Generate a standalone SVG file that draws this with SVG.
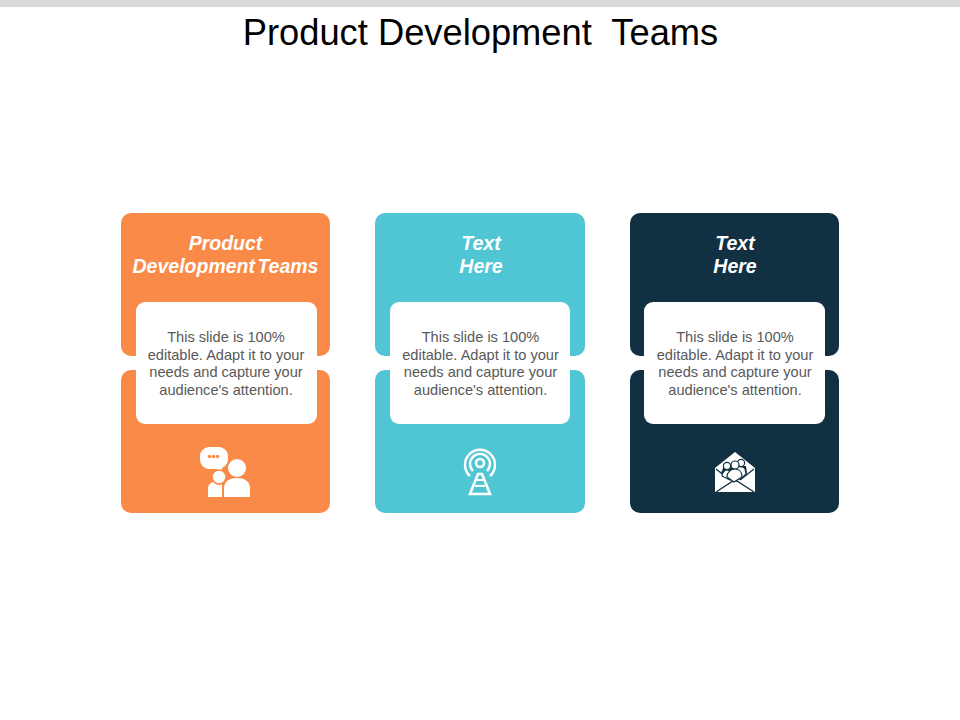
<svg xmlns="http://www.w3.org/2000/svg" width="960" height="720" viewBox="0 0 960 720">
<style>
.title{font:36.300px "Liberation Sans",Arial,sans-serif;fill:#000;text-anchor:middle}
.head{font:italic bold 19.500px "Liberation Sans",Arial,sans-serif;fill:#fff;text-anchor:middle;word-spacing:-3px}
.body{font:14.600px "Liberation Sans",Arial,sans-serif;fill:#595959;text-anchor:middle}
.or{fill:#f98a48}.te{fill:#50c5d4}.na{fill:#113142}
.w{fill:#fff}
</style>
<rect x="0" y="0" width="960" height="7" fill="#d9d9d9"/>
<text class="title" x="480.500" y="45" xml:space="preserve">Product Development  Teams</text>
<g id="node-1">
<rect class="or" x="121" y="213" width="209" height="143" rx="10"/>
<rect class="or" x="121" y="370" width="209" height="143" rx="10"/>
<rect class="w" x="136" y="302" width="181" height="122" rx="9"/>
<text class="head" x="225.500" y="250">Product</text>
<text class="head" x="225.500" y="273">Development Teams</text>
<text class="body" x="226" y="342">This slide is 100%</text>
<text class="body" x="226" y="360">editable. Adapt it to your</text>
<text class="body" x="226" y="377">needs and capture your</text>
<text class="body" x="226" y="395">audience's attention.</text>
<g id="icon-people">
<path class="w" d="M209 447h10a9 9 0 0 1 9 9v3a10 10 0 0 1-6 9l0 7-5-6h-8a9 9 0 0 1-9-9v-4a9 9 0 0 1 9-9z"/>
<circle cx="209.500" cy="456.500" r="1.700" class="or"/><circle cx="213.500" cy="456.500" r="1.700" class="or"/><circle cx="217.500" cy="456.500" r="1.700" class="or"/>
<circle class="w" cx="237" cy="468" r="9"/>
<path class="w" d="M224 497v-9c0-6 5-10 13-10s13 4 13 10v9z"/>
<circle class="w" cx="219" cy="477" r="7" stroke="#f98a48" stroke-width="1.500"/>
<path class="w" d="M208 497v-9c0-3 2-5 5-6 2 2 4 3 6 3 1 0 2 0 3-1v13z"/>
</g>
</g>
<g id="node-2">
<rect class="te" x="375" y="213" width="210" height="143" rx="10"/>
<rect class="te" x="375" y="370" width="210" height="143" rx="10"/>
<rect class="w" x="390" y="302" width="180" height="122" rx="9"/>
<text class="head" x="481" y="250">Text</text>
<text class="head" x="481" y="273">Here</text>
<text class="body" x="480.500" y="342">This slide is 100%</text>
<text class="body" x="480.500" y="360">editable. Adapt it to your</text>
<text class="body" x="480.500" y="377">needs and capture your</text>
<text class="body" x="480.500" y="395">audience's attention.</text>
<g id="icon-tower" fill="none" stroke="#fff">
<path stroke-width="2.400" d="M470 476a15 15 0 1 1 20 0"/>
<path stroke-width="2.400" d="M473 471a10 10 0 1 1 14 0"/>
<circle cx="480" cy="463" r="4" stroke-width="2.600"/>
<path stroke-width="2.600" d="M478 474l-8 20h20l-8-20z"/>
<path stroke-width="2.200" d="M477 480h6M475 486h10"/>
</g>
</g>
<g id="node-3">
<rect class="na" x="630" y="213" width="209" height="143" rx="10"/>
<rect class="na" x="630" y="370" width="209" height="143" rx="10"/>
<rect class="w" x="644" y="302" width="181" height="122" rx="9"/>
<text class="head" x="735" y="250">Text</text>
<text class="head" x="735" y="273">Here</text>
<text class="body" x="735" y="342">This slide is 100%</text>
<text class="body" x="735" y="360">editable. Adapt it to your</text>
<text class="body" x="735" y="377">needs and capture your</text>
<text class="body" x="735" y="395">audience's attention.</text>
<g id="icon-mail">
<path class="w" d="M715 468l20-16 20 16v24h-40z"/>
<path class="na" d="M721 473l3-7h22l1 7-8 7h-10z"/>
<path fill="none" stroke="#113142" stroke-width="1.300" d="M716 469l14 11M754 469l-14 11M716 492l17-11 4 0 17 11"/>
<g class="w" stroke="#113142" stroke-width="1.200">
<circle cx="741" cy="463" r="3.600"/>
<path d="M735 469c1-3 9-3 10 0l1 5-5 5z"/>
<circle cx="727" cy="466" r="3.600"/>
<path d="M722 476c0-4 3-6 5-6s5 2 6 6l-3 4z"/>
<circle cx="735" cy="465" r="4"/>
<path d="M727 477c0-5 4-8 8-8s7 3 7 8l-8 5z"/>
</g>
</g>
</g>
</svg>
